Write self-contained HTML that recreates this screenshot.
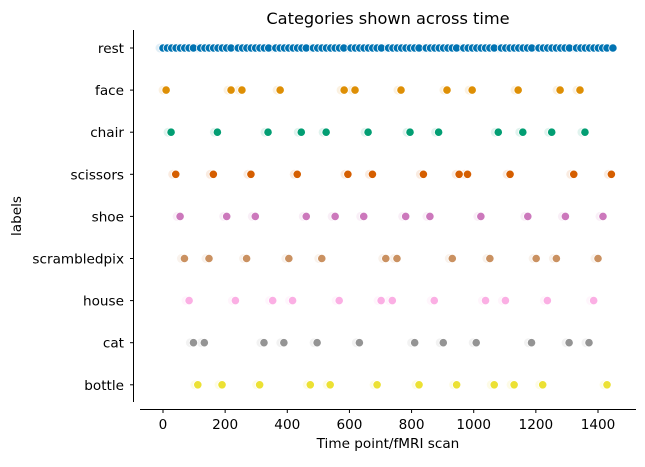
<!DOCTYPE html>
<html><head><meta charset="utf-8"><style>
body{margin:0;background:#fff;}
svg text{font-family:"DejaVu Sans","Liberation Sans",sans-serif;fill:#000;}
</style></head><body>
<svg id="chart" width="645" height="462" xmlns="http://www.w3.org/2000/svg">
<g id="axes"></g>
<g id="marks"></g>
</svg>
<script>
const categories=["rest","face","chair","scissors","shoe","scrambledpix","house","cat","bottle"];
const colors=["#0173b2","#de8f05","#029e73","#d55e00","#cc78bc","#ca9161","#fbafe4","#949494","#ece133"];
const xTicks=[0,200,400,600,800,1000,1200,1400];
const restTimes=[0,14,28,42,56,70,84,98,121,135,149,163,177,191,205,219,242,256,270,284,298,312,326,340,363,377,391,405,419,433,447,461,484,498,512,526,540,554,568,582,605,619,633,647,661,675,689,703,726,740,754,768,782,796,810,824,847,861,875,889,903,917,931,945,968,982,996,1010,1024,1038,1052,1066,1089,1103,1117,1131,1145,1159,1173,1187,1210,1224,1238,1252,1266,1280,1294,1308,1331,1345,1359,1373,1387,1401,1415,1429,1448];
const faceTimes=[10,219,254,377,583,618,766,914,995,1143,1278,1342];
const chairTimes=[26,175,338,445,525,660,795,887,1079,1158,1251,1358];
const scissorsTimes=[41,162,283,432,595,674,838,953,980,1117,1322,1443];
const shoeTimes=[55,205,297,461,554,646,781,859,1023,1174,1295,1416];
const scrambledTimes=[69,148,269,405,511,717,753,931,1052,1201,1266,1400];
const houseTimes=[84,233,353,417,567,702,738,873,1038,1102,1237,1386];
const catTimes=[98,133,325,389,496,632,810,902,1008,1186,1307,1371];
const bottleTimes=[112,190,311,474,538,689,824,945,1066,1130,1222,1429];
const series=[restTimes,faceTimes,chairTimes,scissorsTimes,shoeTimes,scrambledTimes,houseTimes,catTimes,bottleTimes];

const NS="http://www.w3.org/2000/svg";
const x0=163, xScale=(598-163)/1400;
const X=v=>x0+v*xScale;
const Y=i=>48+i*42.1;
function mk(tag,attrs,parent,txt){const e=document.createElementNS(NS,tag);for(const k in attrs)e.setAttribute(k,attrs[k]);if(txt!==undefined)e.textContent=txt;parent.appendChild(e);return e;}
const ax=document.getElementById('axes'), mg=document.getElementById('marks');
let e;
e=mk('text',{x:388,y:24,'text-anchor':'middle','font-size':16.2},ax,'Categories shown across time');


e=mk('line',{x1:133.5,y1:30,x2:133.5,y2:402,stroke:'#000','stroke-width':1},ax);


e=mk('line',{x1:140,y1:409.5,x2:636,y2:409.5,stroke:'#000','stroke-width':1},ax);


xTicks.forEach(t=>{
  const tk=mk('line',{x1:X(t),y1:409.5,x2:X(t),y2:413,stroke:'#000'},ax);
  
  
  const tl=mk('text',{x:X(t),y:429,'text-anchor':'middle','font-size':13.6},ax,String(t));
  
  
});
categories.forEach((c,i)=>{
  const tk=mk('line',{x1:130,y1:Y(i),x2:133.5,y2:Y(i),stroke:'#000'},ax);
  
  
  const tl=mk('text',{x:124,y:Y(i)+5,'text-anchor':'end','font-size':13.6},ax,c);
  
  
});
e=mk('text',{x:388,y:448,'text-anchor':'middle','font-size':13.6},ax,'Time point/fMRI scan');


e=mk('text',{x:21,y:216,'text-anchor':'middle','font-size':13.6,transform:'rotate(-90 21 216)'},ax,'labels');


series.forEach((arr,i)=>{
  arr.forEach(v=>{
    const h=mk('circle',{cx:X(v)-3,cy:Y(i),r:4.5,fill:colors[i],opacity:0.12},mg);
    
    
  });
  arr.forEach(v=>{
    const p=mk('circle',{cx:X(v),cy:Y(i),r:4.2,fill:colors[i],stroke:'#fff','stroke-width':0.8},mg);
    
    
  });
});
</script>
</body></html>
